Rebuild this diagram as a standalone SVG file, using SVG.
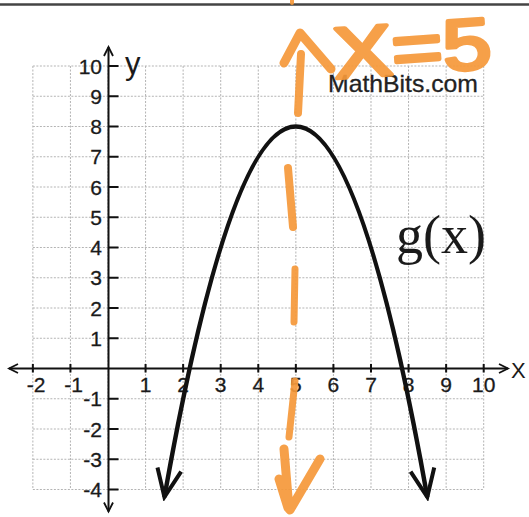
<svg xmlns="http://www.w3.org/2000/svg" width="529" height="517" viewBox="0 0 529 517">
<style>
.grid{fill:none;stroke:#b4b4b4;stroke-width:1;stroke-dasharray:2 1.5}
.axis{fill:none;stroke:#111;stroke-width:2}
.tick{fill:none;stroke:#111;stroke-width:2}
.num{font-family:"Liberation Sans",Arial,sans-serif;font-size:21px;fill:#1a1a1a;stroke:#1a1a1a;stroke-width:0.3}
.ynum{text-anchor:end}
.xnum{text-anchor:middle}
.curve{fill:none;stroke:#111;stroke-width:4.5}
.orange{fill:none;stroke:#F6993A;stroke-linecap:round;stroke-linejoin:round}
</style>
<defs>
<marker id="curveHead" markerUnits="userSpaceOnUse" viewBox="-32 -16 36 32" refX="0" refY="0" markerWidth="36" markerHeight="32" orient="auto-start-reverse">
<path d="M-28,-12 L0,0 L-28,12" fill="none" stroke="#111" stroke-width="4" stroke-linejoin="miter"/>
</marker>
<marker id="axisHead" markerUnits="userSpaceOnUse" viewBox="-12 -7 14 14" refX="0" refY="0" markerWidth="14" markerHeight="14" orient="auto-start-reverse">
<path d="M-9,-4.5 L0,0 L-9,4.5" fill="none" stroke="#111" stroke-width="1.8"/>
</marker>
</defs>
<rect width="529" height="517" fill="#ffffff"/>
<line x1="0" y1="4.5" x2="529" y2="4.5" stroke="#444" stroke-width="2.5"/>
<g id="grid">
<path class="grid" d="M32.86 66V489.5M70.43 66V489.5M108 66V489.5M145.57 66V489.5M183.14 66V489.5M220.71 66V489.5M258.28 66V489.5M295.85 66V489.5M333.42 66V489.5M370.99 66V489.5M408.56 66V489.5M446.13 66V489.5M483.7 66V489.5"/>
<path class="grid" d="M32.86 66H483.7M32.86 96.25H483.7M32.86 126.5H483.7M32.86 156.75H483.7M32.86 187H483.7M32.86 217.25H483.7M32.86 247.5H483.7M32.86 277.75H483.7M32.86 308H483.7M32.86 338.25H483.7M32.86 398.75H483.7M32.86 429H483.7M32.86 459.25H483.7M32.86 489.5H483.7"/>
</g>
<g id="axes">
<line class="axis" x1="9" y1="368.5" x2="508" y2="368.5" marker-start="url(#axisHead)" marker-end="url(#axisHead)"/>
<line class="axis" x1="108.5" y1="47" x2="108.5" y2="511.5" marker-start="url(#axisHead)" marker-end="url(#axisHead)"/>
<path class="tick" d="M108.5 66h10M108.5 96.25h10M108.5 126.5h10M108.5 156.75h10M108.5 187h10M108.5 217.25h10M108.5 247.5h10M108.5 277.75h10M108.5 308h10M108.5 338.25h10M108.5 398.75h10M108.5 429h10M108.5 459.25h10M108.5 489.5h10"/>
<path class="tick" d="M32.86 364v8.5M70.43 364v8.5M145.57 364v8.5M183.14 364v8.5M220.71 364v8.5M258.28 364v8.5M295.85 364v8.5M333.42 364v8.5M370.99 364v8.5M408.56 364v8.5M446.13 364v8.5M483.7 364v8.5"/>
</g>
<g id="y-labels" class="num ynum">
<text x="102" y="73.5">10</text>
<text x="102" y="103.75">9</text>
<text x="102" y="134">8</text>
<text x="102" y="164.25">7</text>
<text x="102" y="194.5">6</text>
<text x="102" y="224.75">5</text>
<text x="102" y="255">4</text>
<text x="102" y="285.25">3</text>
<text x="102" y="315.5">2</text>
<text x="102" y="345.75">1</text>
<text x="102" y="406.25">-1</text>
<text x="102" y="436.5">-2</text>
<text x="102" y="466.75">-3</text>
<text x="102" y="497">-4</text>
</g>
<g id="x-labels" class="num xnum">
<text x="36" y="392">-2</text>
<text x="73.5" y="392">-1</text>
<text x="145.57" y="392">1</text>
<text x="183.14" y="392">2</text>
<text x="220.71" y="392">3</text>
<text x="258.28" y="392">4</text>
<text x="295.85" y="392">5</text>
<text x="333.42" y="392">6</text>
<text x="370.99" y="392">7</text>
<text x="408.56" y="392">8</text>
<text x="446.13" y="392">9</text>
<text x="483.7" y="392">10</text>
</g>
<g id="axis-names" font-family="Liberation Sans,Arial,sans-serif" fill="#1a1a1a">
<text x="125" y="73.5" font-size="31">y</text>
<text x="511" y="378" font-size="22">X</text>
</g>
<g id="parabola">
<path class="curve" d="M164.4 497.1 Q295.85 -244.1 427.3 497.1" marker-start="url(#curveHead)" marker-end="url(#curveHead)"/>
</g>
<g id="function-label">
<text x="396" y="253" font-family="Liberation Serif,Times New Roman,serif" font-size="54" fill="#1a1a1a">g(x)</text>
</g>
<g id="watermark">
<text x="328" y="92" font-family="Liberation Sans,Arial,sans-serif" font-size="24" fill="#222" stroke="#222" stroke-width="0.3" textLength="150" lengthAdjust="spacingAndGlyphs">MathBits.com</text>
</g>
<g id="axis-of-symmetry" class="orange" opacity="0.92">
<path d="M292 0.5V3" stroke-width="4"/>
<path d="M301 54L298 113" stroke-width="8"/>
<path d="M284 63L300 33L331 69" stroke-width="9"/>
<path d="M288 168L293 227" stroke-width="8"/>
<path d="M295 269L294 322" stroke-width="7"/>
<path d="M295 381L289 437" stroke-width="7"/>
<path d="M284 449L289 509M320 459L290 510M279 479L288 508" stroke-width="9"/>
</g>
<g id="handwritten-label">
<text x="333" y="73" font-family="Liberation Sans,Arial,sans-serif" font-size="72" fill="#F6993A" stroke="#F6993A" stroke-width="4" stroke-linejoin="round" textLength="158" lengthAdjust="spacingAndGlyphs" transform="rotate(-4 413 45)" opacity="0.92">X=5</text>
</g>
</svg>
